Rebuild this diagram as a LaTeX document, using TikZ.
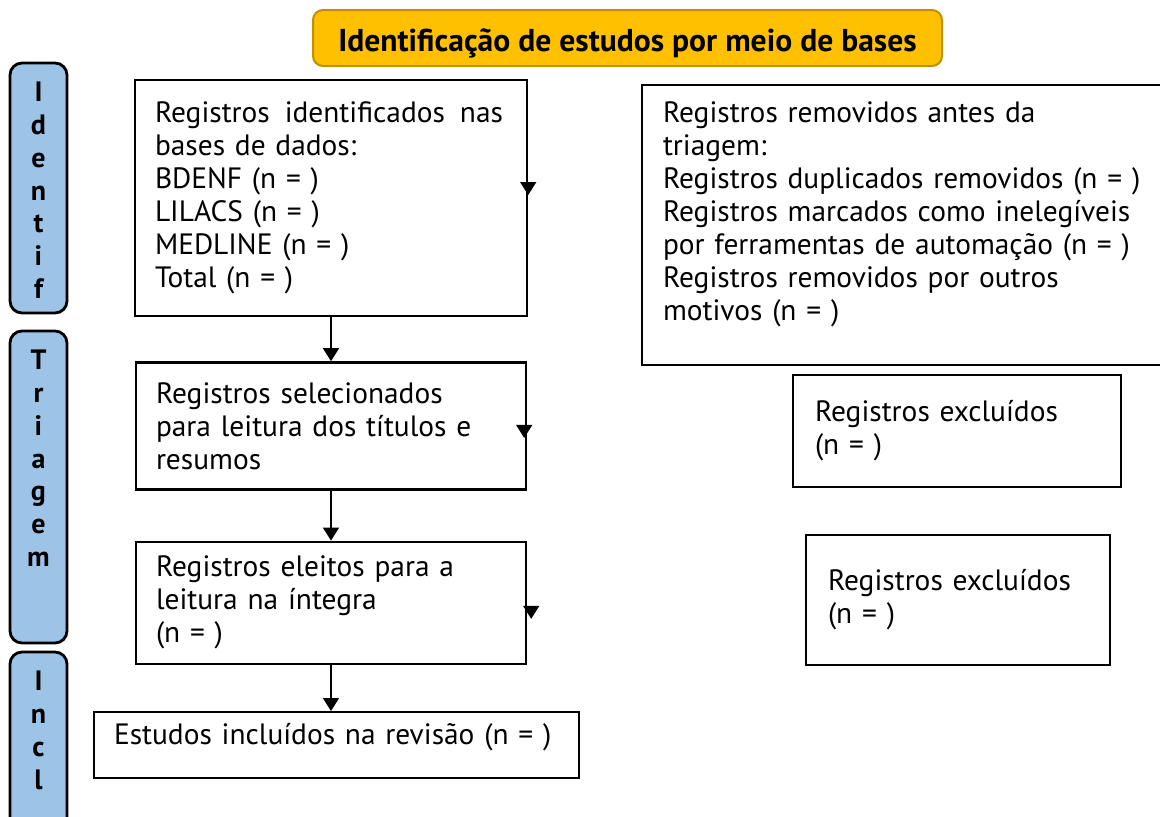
\documentclass[tikz,border=0pt]{standalone}
\usepackage{fontspec}
\setmainfont{PT Sans}
\usetikzlibrary{positioning,arrows.meta}
\definecolor{titlegold}{HTML}{FFC000}
\definecolor{titleedge}{HTML}{BF9000}
\definecolor{tabblue}{HTML}{9DC3E6}
\tikzset{flow box/.style={rectangle,draw,line width=1.2pt,align=left,inner xsep=10pt,inner ysep=0pt,font=\fontsize{14.7}{16.5}\selectfont},
  phase tab/.style={rectangle,rounded corners=6pt,draw,line width=1.4pt,fill=tabblue,minimum width=28.5pt},
  tab letters/.style={align=center,inner sep=0pt,font=\bfseries\fontsize{14}{16.4}\selectfont},
  flow/.style={line width=0.8pt,-{Triangle[width=8pt,length=6.5pt]}},
}

\begin{document}
\begin{tikzpicture}[x=0.5pt,y=-0.5pt]
\useasboundingbox (0,0) rectangle (1160,816);

%% title
\node[rectangle,rounded corners=5pt,draw=titleedge,line width=1pt,fill=titlegold,minimum width=314.5pt,minimum height=28pt,text height=13pt,text depth=0pt,font=\bfseries\fontsize{15.8}{17}\selectfont] (title) at (627.5,38) {Identificação de estudos por meio de bases};

%% phases
\node[phase tab,minimum height=125pt] (tabIdent) at (38.5,188) {};
\node[phase tab,minimum height=156pt] (tabTria) at (38.5,487) {};
\node[phase tab,minimum height=89pt] (tabIncl) at (38.5,741) {};
\node[tab letters,below=10pt of tabIdent.north] (lblIdent) {I\\d\\e\\n\\t\\i\\f};
\node[tab letters,below=10pt of tabTria.north] (lblTria) {T\\r\\i\\a\\g\\e\\m};
\node[tab letters,below=10pt of tabIncl.north] (lblIncl) {I\\n\\c\\l};

%% left column
\node[flow box,text width=176pt,minimum height=118pt] (ident) at (331,198) {\makebox[174pt][l]{Registros\hfill identificados\hfill nas}\\bases de dados:\\BDENF (n = )\\LILACS (n = )\\MEDLINE (n = )\\Total (n = )};
\node[flow box,text width=175pt,minimum height=63.5pt] (select) [below = 22pt of ident] {Registros selecionados\\para leitura dos títulos e\\resumos};
\node[flow box,text width=175pt,minimum height=61pt] (eligible) [below = 25pt of select] {Registros eleitos para a\\leitura na íntegra\\(n = )};
\node[flow box,text width=222.5pt,minimum height=33pt,text depth=11pt] (included) [below = 23pt of eligible, xshift=2.75pt] {Estudos incluídos na revisão (n = )};

\draw[flow] (ident.south) -- (ident.south |- select.north);
\draw[flow] (select.south) -- (select.south |- eligible.north);
\draw[flow] (eligible.south) -- (eligible.south |- included.north);

%% right column
\node[flow box,text width=241pt,inner xsep=10.5pt,minimum height=140pt,text depth=112.5pt] (removed) at (904,225) {Registros removidos antes da\\triagem:\\Registros duplicados removidos (n = )\\Registros marcados como inelegíveis\\por ferramentas de automação (n = )\\Registros removidos por outros\\motivos (n = )};
\node[flow box,text width=142pt,inner xsep=11pt,minimum height=56pt] (excl1) at (957,431) {Registros excluídos\\(n = )};
\node[flow box,text width=130pt,inner xsep=11pt,minimum height=65pt] (excl2) at (958,600) {Registros excluídos\\(n = )};

%% arrow tips on the right edges
\coordinate (tipA) at ([yshift=1.5pt]ident.east);
\coordinate (tipB) at ([xshift=-1.5pt,yshift=-6pt]select.east);
\coordinate (tipC) at ([xshift=2pt,yshift=-8pt]eligible.east);
\draw[flow] ([yshift=6.5pt]tipA) -- (tipA);
\draw[flow] ([yshift=6.5pt]tipB) -- (tipB);
\draw[flow] ([yshift=6.5pt]tipC) -- (tipC);
\end{tikzpicture}
\end{document}
